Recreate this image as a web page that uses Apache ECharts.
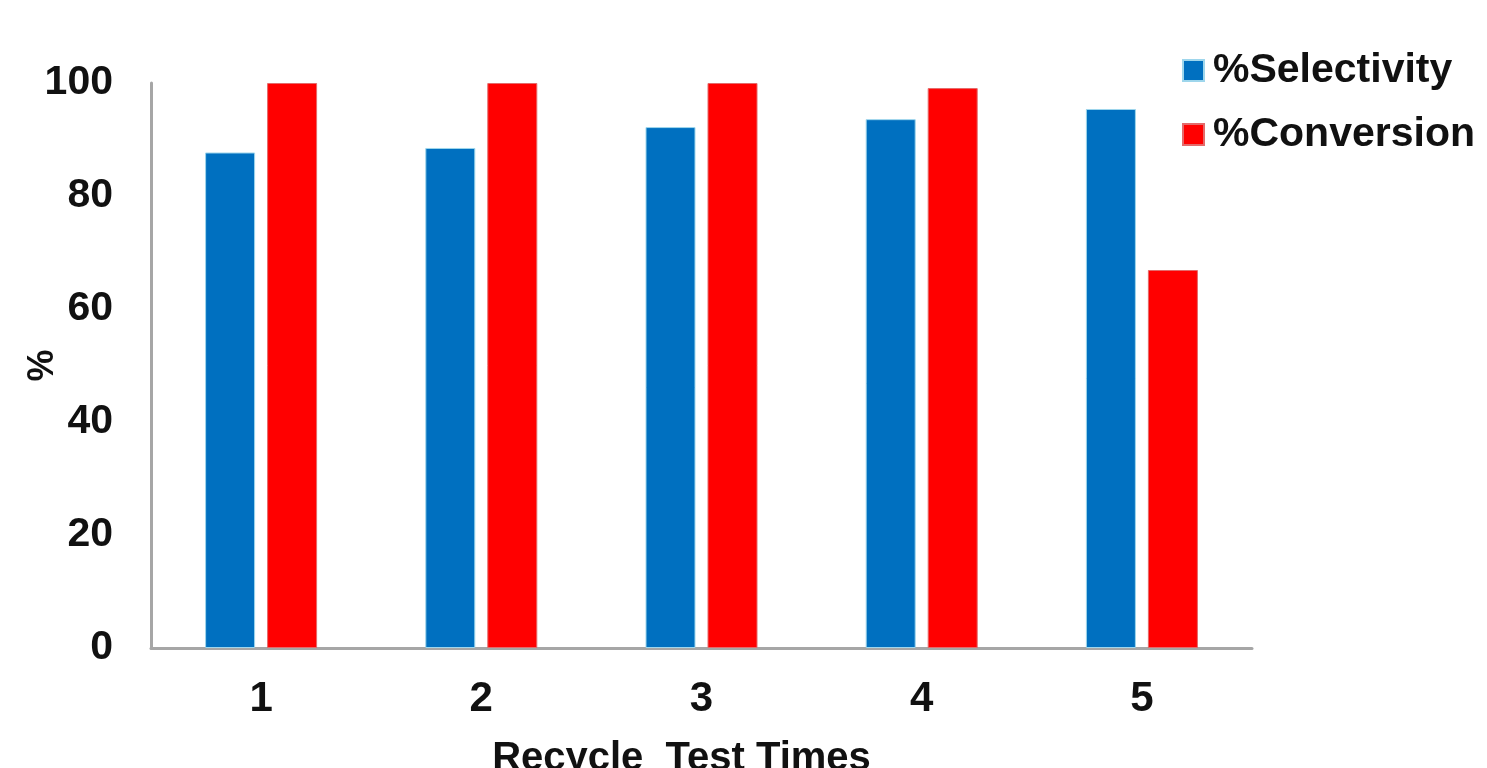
<!DOCTYPE html>
<html>
<head>
<meta charset="utf-8">
<script src="https://cdn.jsdelivr.net/npm/echarts@6/dist/echarts.min.js"></script>
<style>html,body{margin:0;padding:0;background:#fff}#c{width:1487px;height:768px}</style>
</head>
<body>
<div id="c"></div>
<script>
const categories = ['1', '2', '3', '4', '5'];
const selectivity = [87.7, 88.5, 92.2, 93.6, 95.4];
const conversion = [100, 100, 100, 99.1, 66.9];
const yTicks = [0, 20, 40, 60, 80, 100];

const FONT = '"Liberation Sans", Arial, sans-serif';
const chart = echarts.init(document.getElementById('c'));
chart.setOption({
  animation: false,
  backgroundColor: '#ffffff',
  grid: { left: 151, right: 235, top: 83, bottom: 120, containLabel: false, outerBoundsMode: 'none' },
  legend: {
    orient: 'vertical',
    left: 1182,
    top: 50,
    padding: 0,
    itemWidth: 21,
    itemHeight: 21,
    itemGap: 23,
    icon: 'rect',
    textStyle: { fontFamily: FONT, fontWeight: 'bold', fontSize: 41, color: '#111', padding: [0, 0, 0, 4] },
    data: ['%Selectivity', '%Conversion']
  },
  xAxis: {
    type: 'category',
    data: categories,
    name: 'Recycle  Test Times',
    nameLocation: 'middle',
    nameGap: 91,
    nameMoveOverlap: false,
    nameTextStyle: { fontFamily: FONT, fontWeight: 'bold', fontSize: 40, color: '#111', padding: [0, 40, 0, 0] },
    axisLine: { show: true, lineStyle: { color: '#A6A6A6', width: 3 } },
    axisTick: { show: false },
    axisLabel: { fontFamily: FONT, fontWeight: 'bold', fontSize: 42, color: '#111', margin: 30 }
  },
  yAxis: {
    type: 'value',
    min: 0,
    max: 100,
    interval: 20,
    name: '%',
    nameLocation: 'middle',
    nameGap: 90,
    nameRotate: 90,
    nameMoveOverlap: false,
    nameTextStyle: { fontFamily: FONT, fontWeight: 'bold', fontSize: 36, color: '#111' },
    axisLine: { show: true, lineStyle: { color: '#A6A6A6', width: 3 } },
    axisTick: { show: false },
    splitLine: { show: false },
    axisLabel: {
      fontFamily: FONT, fontWeight: 'bold', fontSize: 41, color: '#111', margin: 38,
      formatter: v => (yTicks.includes(v) ? String(v) : '')
    }
  },
  series: [
    {
      name: '%Selectivity', type: 'bar', data: selectivity,
      barWidth: 50, barGap: '24%',
      itemStyle: { color: '#0070C0', borderColor: '#9ed6ec', borderWidth: 1 }
    },
    {
      name: '%Conversion', type: 'bar', data: conversion,
      barWidth: 50,
      itemStyle: { color: '#FF0000', borderColor: '#e46a6a', borderWidth: 1 }
    }
  ]
});
</script>
</body>
</html>
